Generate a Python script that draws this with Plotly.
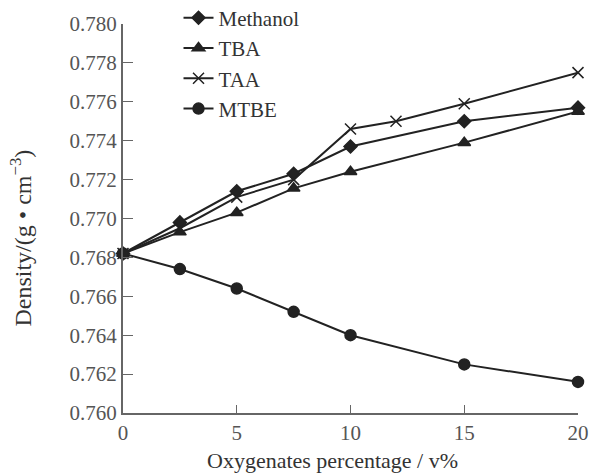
import plotly.graph_objects as go

x_pct = [0, 2.5, 5, 7.5, 10, 15, 20]
x_taa = [0, 2.5, 5, 7.5, 10, 12, 15, 20]
methanol = [0.7682, 0.7698, 0.7714, 0.7723, 0.7737, 0.7750, 0.7757]
tba = [0.7682, 0.7693, 0.7703, 0.77155, 0.7724, 0.7739, 0.7755]
taa = [0.7682, 0.7695, 0.7711, 0.7720, 0.7746, 0.7750, 0.7759, 0.7775]
mtbe = [0.7682, 0.7674, 0.7664, 0.7652, 0.7640, 0.7625, 0.7616]

y_ticks = [0.760, 0.762, 0.764, 0.766, 0.768, 0.770, 0.772, 0.774, 0.776, 0.778, 0.780]
x_ticks = [0, 5, 10, 15, 20]

FONT = "Liberation Serif"
LINE = "#222222"

fig = go.Figure()
series = [
    ("Methanol", x_pct, methanol, "diamond", 10),
    ("TBA", x_pct, tba, "triangle-up", 11),
    ("TAA", x_taa, taa, "x-thin-open", 11),
    ("MTBE", x_pct, mtbe, "circle", 11),
]
for name, xs, ys, sym, sz in series:
    fig.add_trace(go.Scatter(
        x=xs, y=ys, name=name, mode="lines+markers",
        line=dict(color=LINE, width=2),
        marker=dict(symbol=sym, size=sz, color=LINE,
                    line=dict(color=LINE, width=1.5)),
        cliponaxis=False,
    ))

fig.update_layout(
    width=590, height=474,
    margin=dict(l=123, r=12, t=24, b=61, autoexpand=False),
    paper_bgcolor="white", plot_bgcolor="white",
    font=dict(family=FONT, size=21, color="#333333"),
    showlegend=True,
    legend=dict(x=0.122, y=1.068, xanchor="left", yanchor="top",
                bgcolor="rgba(0,0,0,0)", font=dict(family=FONT, size=21, color="#333333"),
                tracegroupgap=0, itemwidth=30),
    xaxis=dict(range=[0, 20], tickvals=x_ticks, ticks="inside", ticklen=8,
               showline=True, linecolor="#666666", linewidth=2, tickcolor="#666666",
               showgrid=False, zeroline=False, tickfont=dict(size=21, color="#555555")),
    yaxis=dict(range=[0.760, 0.780], tickvals=y_ticks, tickformat=".3f",
               ticks="inside", ticklen=10,
               showline=True, linecolor="#666666", linewidth=2, tickcolor="#666666",
               showgrid=False, zeroline=False, tickfont=dict(size=21, color="#555555")),
    annotations=[
        dict(text="Oxygenates percentage / v%", xref="paper", yref="paper",
             x=0.46, y=-0.123, xanchor="center", yanchor="middle", showarrow=False,
             font=dict(family=FONT, size=22, color="#333333")),
        dict(text="Density/(g • cm<sup>−3</sup>)", xref="paper", yref="paper",
             x=-0.225, y=0.45, xanchor="center", yanchor="middle", showarrow=False,
             textangle=-90, font=dict(family=FONT, size=24, color="#333333")),
    ],
)

fig.write_html("out.html")
